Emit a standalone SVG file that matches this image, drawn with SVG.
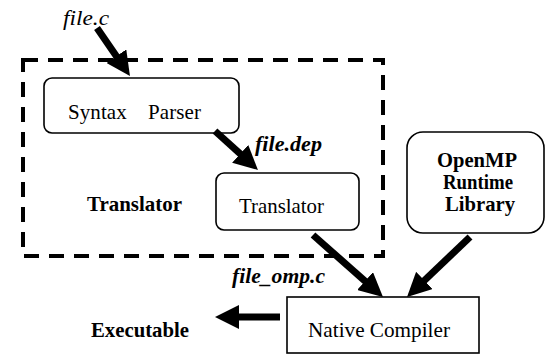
<svg xmlns="http://www.w3.org/2000/svg" width="546" height="354" viewBox="0 0 546 354">
<style>
.box{fill:#fff;stroke:#000;stroke-width:1.6}
text{font-family:'Liberation Serif','DejaVu Serif',serif;font-size:21px;fill:#000}
.b{font-weight:bold}
.i{font-style:italic}
.arr{stroke:#000;stroke-width:7;fill:none;marker-end:url(#ah)}
</style>
<defs>
<marker id="ah" markerUnits="userSpaceOnUse" viewBox="0 0 24 24" refX="8" refY="12" markerWidth="24" markerHeight="24" orient="auto">
<path d="M0,0 L24,12 L0,24 z" fill="#000"/>
</marker>
</defs>
<rect x="0" y="0" width="546" height="354" fill="#fff"/>
<g id="translator-group">
<rect x="23" y="60" width="360" height="196" fill="none" stroke="#000" stroke-width="4" stroke-dasharray="15,10"/>
<text class="b" x="87" y="211" textLength="95" lengthAdjust="spacingAndGlyphs">Translator</text>
</g>
<g id="syntax-parser">
<rect class="box" x="44" y="78" width="195" height="55" rx="8"/>
<text x="68" y="119" xml:space="preserve" textLength="133" lengthAdjust="spacing">Syntax    Parser</text>
</g>
<g id="translator">
<rect class="box" x="216" y="173" width="143" height="57" rx="8"/>
<text x="239" y="213" textLength="85" lengthAdjust="spacingAndGlyphs">Translator</text>
</g>
<g id="openmp">
<rect class="box" x="407" y="132" width="137" height="101" rx="16"/>
<text class="b" x="437" y="167" textLength="80" lengthAdjust="spacingAndGlyphs">OpenMP</text>
<text class="b" x="443" y="189" textLength="70" lengthAdjust="spacingAndGlyphs">Runtime</text>
<text class="b" x="445" y="211" textLength="70" lengthAdjust="spacingAndGlyphs">Library</text>
</g>
<g id="native-compiler">
<rect class="box" x="287" y="297" width="192" height="56"/>
<text x="308" y="337" textLength="142" lengthAdjust="spacingAndGlyphs">Native Compiler</text>
</g>
<g id="labels">
<text class="i" x="63" y="25" textLength="46" lengthAdjust="spacingAndGlyphs">file.c</text>
<text class="b i" x="255" y="151" textLength="67" lengthAdjust="spacingAndGlyphs">file.dep</text>
<text class="b i" x="232" y="283" textLength="93" lengthAdjust="spacingAndGlyphs">file_omp.c</text>
<text class="b" x="91" y="337" textLength="98" lengthAdjust="spacingAndGlyphs">Executable</text>
</g>
<g id="connectors">
<line class="arr" x1="97" y1="28" x2="120.9" y2="62.8"/>
<line class="arr" x1="215" y1="131" x2="246.1" y2="159.2"/>
<line class="arr" x1="313" y1="235" x2="371" y2="286.4"/>
<line class="arr" x1="470" y1="237" x2="418.6" y2="286"/>
<line class="arr" x1="280" y1="317" x2="231" y2="317"/>
</g>
</svg>
